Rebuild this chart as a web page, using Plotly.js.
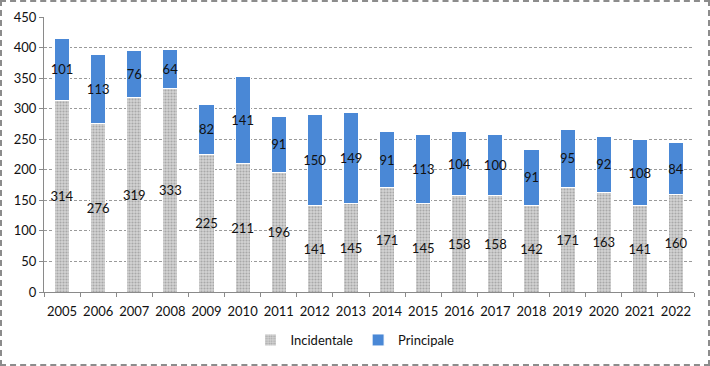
<!DOCTYPE html>
<html><head><meta charset="utf-8">
<script src="https://cdn.plot.ly/plotly-3.0.1.min.js"></script>
<style>
html,body{margin:0;padding:0;background:#fff;}
#chart{position:absolute;left:0;top:0;width:710px;height:366px;}
#frame{position:absolute;left:0;top:0;width:710px;height:366px;box-sizing:border-box;border:2px dashed #8c8c8c;pointer-events:none;}
</style></head>
<body>
<div id="chart"></div>
<div id="frame"></div>
<script>
const years = ['2005','2006','2007','2008','2009','2010','2011','2012','2013','2014','2015','2016','2017','2018','2019','2020','2021','2022'];
const incidentale = [314,276,319,333,225,211,196,141,145,171,145,158,158,142,171,163,141,160];
const principale = [101,113,76,64,82,141,91,150,149,91,113,104,100,91,95,92,108,84];
const seriesNames = ['Incidentale','Principale'];

const common = {
  type:'bar', x: years, width:0.42,
  textposition:'inside', insidetextanchor:'middle', constraintext:'none', textangle:0,
  textfont:{family:'Lato, "Open Sans", sans-serif', size:13, color:'#111'},
  hoverinfo:'skip'
};
const t1 = Object.assign({}, common, {
  name: seriesNames[0], y: incidentale, text: incidentale.map(String),
  marker:{color:'#c4c4c4', line:{color:'#ffffff', width:1},
    pattern:{shape:'.', bgcolor:'#d4d4d4', fgcolor:'#a8a8a8', size:3, solidity:0.4}}
});
const t2 = Object.assign({}, common, {
  name: seriesNames[1], y: principale, text: principale.map(String),
  marker:{color:'#4a88d6', line:{color:'#ffffff', width:1}}
});

const layout = {
  width:710, height:366, barmode:'stack', bargap:0.58,
  paper_bgcolor:'#fff', plot_bgcolor:'#fff',
  margin:{l:44, r:16, t:17, b:74},
  font:{family:'Lato, "Open Sans", sans-serif', size:13, color:'#111'},
  xaxis:{type:'category', showline:true, linecolor:'#8a8a8a', linewidth:1,
    ticks:'outside', ticklen:4, tickcolor:'#8a8a8a', tickson:'boundaries',
    tickangle:0, automargin:false, ticklabelstandoff:7,
    tickfont:{size:13, color:'#111'}, showgrid:false},
  yaxis:{range:[0,450], dtick:50, tick0:0, showline:true, linecolor:'#8a8a8a', linewidth:1,
    ticks:'outside', ticklen:4, tickcolor:'#8a8a8a', automargin:false,
    showgrid:true, gridcolor:'#9a9a9a', griddash:'3px,2px', gridwidth:1,
    zeroline:false, tickfont:{size:13, color:'#111'}},
  showlegend:true,
  legend:{orientation:'h', x:0.5, xanchor:'center', xref:'container',
    y:0.112, yanchor:'top', yref:'container',
    font:{size:13, color:'#111'}, itemwidth:30, traceorder:'normal'}
};
Plotly.newPlot('chart',[t1,t2],layout,{displayModeBar:false, staticPlot:true});
</script>
</body></html>
